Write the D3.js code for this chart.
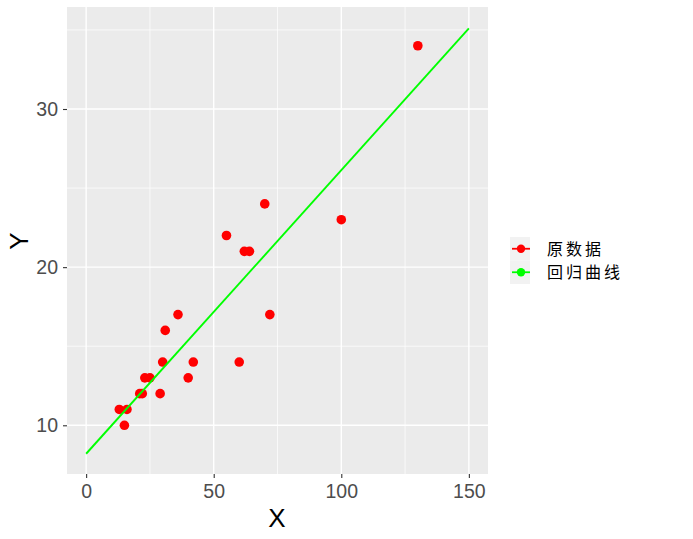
<!DOCTYPE html>
<html><head><meta charset="utf-8">
<script src="https://cdn.jsdelivr.net/npm/d3@7"></script>
<style>body{margin:0;background:#fff}svg{display:block}</style>
</head><body>
<script>
// data
const pointX = [130, 70, 100, 55, 62, 64, 72, 36, 31, 30, 42, 60, 23, 25, 40, 21, 22, 29, 13, 16, 15];
const pointY = [34, 24, 23, 22, 21, 21, 17, 17, 16, 14, 14, 14, 13, 13, 13, 12, 12, 12, 11, 11, 10];
const lineX = [0, 150];
const lineY = [8.2, 35.1];
const xTicks = [0, 50, 100, 150];
const yTicks = [10, 20, 30];
const xMinor = [25, 75, 125];
const yMinor = [15, 25, 35];
const legendLabels = ["原数据", "回归曲线"];
const legendColors = ["#FF0000", "#00FF00"];

const W = 693, H = 539;
const P = {left: 67, right: 488, top: 7, bottom: 474};

const svg = d3.select("body").append("svg").attr("width", W).attr("height", H);

const x = d3.scaleLinear().domain([-7.5, 157.5]).range([P.left, P.right]);
const y = d3.scaleLinear().domain([6.92, 36.45]).range([P.bottom, P.top]);

svg.append("rect").attr("x", P.left).attr("y", P.top)
  .attr("width", P.right - P.left).attr("height", P.bottom - P.top).attr("fill", "#EBEBEB");

const g = svg.append("g");
// minor grid
g.selectAll(".vmin").data(xMinor).join("line")
  .attr("x1", d => x(d)).attr("x2", d => x(d)).attr("y1", P.top).attr("y2", P.bottom)
  .attr("stroke", "#fff").attr("stroke-width", 0.7);
g.selectAll(".hmin").data(yMinor).join("line")
  .attr("y1", d => y(d)).attr("y2", d => y(d)).attr("x1", P.left).attr("x2", P.right)
  .attr("stroke", "#fff").attr("stroke-width", 0.7);
// major grid
g.selectAll(".vmaj").data(xTicks).join("line")
  .attr("x1", d => x(d)).attr("x2", d => x(d)).attr("y1", P.top).attr("y2", P.bottom)
  .attr("stroke", "#fff").attr("stroke-width", 1.4);
g.selectAll(".hmaj").data(yTicks).join("line")
  .attr("y1", d => y(d)).attr("y2", d => y(d)).attr("x1", P.left).attr("x2", P.right)
  .attr("stroke", "#fff").attr("stroke-width", 1.4);

// axes
const xAxis = d3.axisBottom(x).tickValues(xTicks).tickSize(4).tickPadding(3);
const yAxis = d3.axisLeft(y).tickValues(yTicks).tickSize(4).tickPadding(5);
const gx = svg.append("g").attr("transform", `translate(0,${P.bottom})`).call(xAxis);
const gy = svg.append("g").attr("transform", `translate(${P.left},0)`).call(yAxis);
[gx, gy].forEach(a => {
  a.select(".domain").remove();
  a.selectAll(".tick line").attr("stroke", "#333333").attr("stroke-width", 1.1);
  a.selectAll(".tick text").attr("fill", "#4D4D4D").attr("font-size", 19.5)
    .attr("font-family", "Liberation Sans, Arial, sans-serif");
});
gx.selectAll(".tick text").attr("dy", "0.85em");

// points
const pts = pointX.map((d, i) => ({x: d, y: pointY[i]}));
svg.append("g").selectAll("circle").data(pts).join("circle")
  .attr("cx", d => x(d.x)).attr("cy", d => y(d.y)).attr("r", 4.8).attr("fill", "#FF0000");

// regression line
const ln = lineX.map((d, i) => ({x: d, y: lineY[i]}));
svg.append("path").datum(ln)
  .attr("d", d3.line().x(d => x(d.x)).y(d => y(d.y)))
  .attr("stroke", "#00FF00").attr("stroke-width", 1.9).attr("fill", "none");

// axis titles
svg.append("text").attr("x", 277).attr("y", 527)
  .attr("text-anchor", "middle").attr("font-size", 26).attr("fill", "#000")
  .attr("font-family", "Liberation Sans, Arial, sans-serif").text("X");
svg.append("text").attr("transform", `translate(27.5,241) rotate(-90)`)
  .attr("text-anchor", "middle").attr("font-size", 26).attr("fill", "#000")
  .attr("font-family", "Liberation Sans, Arial, sans-serif").text("Y");

// legend
const lg = svg.append("g").attr("transform", "translate(510,237)");
const keyH = 23.5, keyW = 20;
lg.selectAll("g").data(legendLabels).join("g")
  .attr("transform", (d, i) => `translate(0,${i * keyH})`)
  .each(function(d, i) {
    const k = d3.select(this);
    k.append("rect").attr("width", keyW).attr("height", keyH).attr("fill", "#F2F2F2");
    k.append("line").attr("x1", 2).attr("x2", keyW).attr("y1", keyH / 2).attr("y2", keyH / 2)
      .attr("stroke", legendColors[i]).attr("stroke-width", 1.8);
    k.append("circle").attr("cx", 11).attr("cy", keyH / 2).attr("r", 4.2).attr("fill", legendColors[i]);
    k.append("text").attr("x", 37).attr("y", keyH / 2).attr("dy", "0.36em")
      .attr("font-size", 16).attr("letter-spacing", 3).attr("fill", "#000")
      .attr("font-family", "Noto Sans CJK SC, sans-serif").text(d);
  });
</script>
</body></html>
